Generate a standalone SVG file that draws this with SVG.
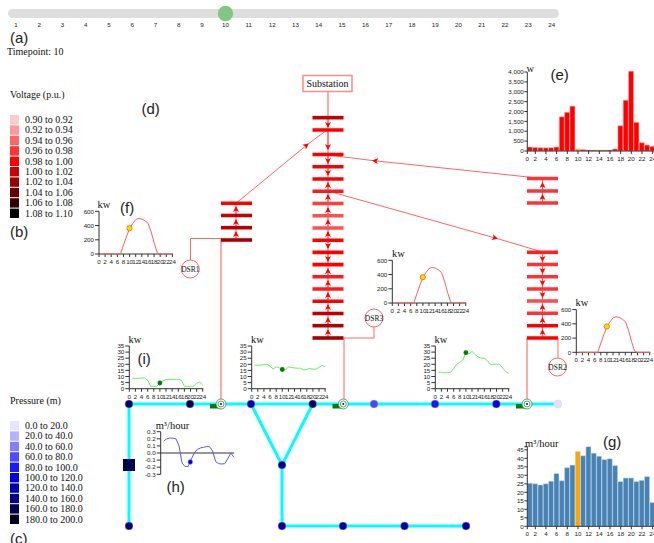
<svg xmlns="http://www.w3.org/2000/svg" width="654" height="543" viewBox="0 0 654 543">
<style>
text{font-family:"Liberation Serif",serif;fill:#111}
.s{font-family:"Liberation Sans",Arial,sans-serif}
.p{font-family:"Liberation Sans",Arial,sans-serif;font-size:15px;fill:#222}
.t{font-family:"Liberation Sans",Arial,sans-serif;font-size:6.2px;fill:#222}
.m{text-anchor:middle}
.e{text-anchor:end}
.l{font-size:10px}
.u{font-size:10.5px;text-anchor:middle}
.ax{fill:none;stroke:#333;stroke-width:1}
.bus{stroke-width:3.6;fill:none}
.c{fill:none;stroke:#ff6666;stroke-width:1}
.cp{fill:none;stroke:#ffaaaa;stroke-width:2}
.dn,.up{fill:none;stroke:#ff5a5a;stroke-width:1}
.dn{marker-end:url(#arr)}
.up{marker-end:url(#arr)}
.pipe{fill:none;stroke:#00ffff;stroke-width:3}
.dsr{fill:#fff;stroke:#ff6666;stroke-width:1}
.dsrt{font-size:7.5px;text-anchor:middle}
.v{fill:none;vector-effect:non-scaling-stroke;stroke-linejoin:round}
.pv{stroke:#ff6060;stroke-width:1}
.gr{stroke:#66ee66;stroke-width:1}
.bl{stroke:#5a5aff;stroke-width:1}
.pvd{fill:#ffe000;stroke:#ff7a00;stroke-width:1}
.grd{fill:#008000}
.re rect{fill:#f00;stroke:#ffb0b0;stroke-width:.5;vector-effect:non-scaling-stroke}
.sb rect{fill:#4682b4;stroke:#c8d8e8;stroke-width:.5;vector-effect:non-scaling-stroke}
.re rect.o,.sb rect.o{fill:#ffa500}
.nd{stroke:#ccd;stroke-width:.4}
.pr1{fill:#2e8b57}
.ring{fill:#fff;stroke:#2e8b57;stroke-width:.8}
</style>
<defs>
<marker id="arr" markerUnits="userSpaceOnUse" markerWidth="7" markerHeight="7" refX="5" refY="3" orient="auto"><path d="M0 0L6 3L0 6L1.5 3z" fill="#f00"/></marker>
</defs>

<g id="slider">
<rect x="8" y="9" width="551" height="9" rx="4.5" fill="#dedede"/>
<circle cx="225.5" cy="13.5" r="7.7" fill="#81c784"/>
<text class="t m" y="27"><tspan x="16">1</tspan><tspan x="39.3">2</tspan><tspan x="62.5">3</tspan><tspan x="85.8">4</tspan><tspan x="109">5</tspan><tspan x="132.3">6</tspan><tspan x="155.5">7</tspan><tspan x="178.8">8</tspan><tspan x="202">9</tspan><tspan x="225.5">10</tspan><tspan x="248.7">11</tspan><tspan x="272.3">12</tspan><tspan x="295.5">13</tspan><tspan x="318.8">14</tspan><tspan x="342">15</tspan><tspan x="365.5">16</tspan><tspan x="388.7">17</tspan><tspan x="412">18</tspan><tspan x="435.3">19</tspan><tspan x="458.5">20</tspan><tspan x="481.8">21</tspan><tspan x="505">22</tspan><tspan x="528.3">23</tspan><tspan x="551.7">24</tspan></text>
</g>
<text class="p" x="10" y="43">(a)</text>
<text class="l" x="7" y="55">Timepoint: 10</text>
<text class="p" x="141.5" y="114">(d)</text>
<text class="p" x="550.5" y="80">(e)</text>
<text class="p" x="120" y="213">(f)</text>
<text class="p" x="603" y="447">(g)</text>
<text class="p" x="166.5" y="492">(h)</text>
<text class="p" x="137.5" y="364">(i)</text>
<text class="p" x="10" y="237">(b)</text>
<text class="p" x="10" y="544">(c)</text>

<g id="voltage-legend">
<text class="l" x="10" y="98">Voltage (p.u.)</text>
<rect x="10" y="115" width="9" height="9.4" fill="#ffcccc"/><text class="l" x="25" y="123">0.90 to 0.92</text>
<rect x="10" y="125.4" width="9" height="9.4" fill="#ff9999"/><text class="l" x="25" y="133.4">0.92 to 0.94</text>
<rect x="10" y="135.8" width="9" height="9.4" fill="#ff6666"/><text class="l" x="25" y="143.8">0.94 to 0.96</text>
<rect x="10" y="146.2" width="9" height="9.4" fill="#ff3333"/><text class="l" x="25" y="154.2">0.96 to 0.98</text>
<rect x="10" y="156.6" width="9" height="9.4" fill="#ff0000"/><text class="l" x="25" y="164.6">0.98 to 1.00</text>
<rect x="10" y="167" width="9" height="9.4" fill="#cc0000"/><text class="l" x="25" y="175">1.00 to 1.02</text>
<rect x="10" y="177.4" width="9" height="9.4" fill="#990000"/><text class="l" x="25" y="185.4">1.02 to 1.04</text>
<rect x="10" y="187.8" width="9" height="9.4" fill="#660000"/><text class="l" x="25" y="195.8">1.04 to 1.06</text>
<rect x="10" y="198.2" width="9" height="9.4" fill="#330000"/><text class="l" x="25" y="206.2">1.06 to 1.08</text>
<rect x="10" y="208.6" width="9" height="9.4" fill="#000000"/><text class="l" x="25" y="216.6">1.08 to 1.10</text>
</g>

<g id="pressure-legend">
<text class="l" x="10" y="404">Pressure (m)</text>
<rect x="10" y="421" width="9" height="9.4" fill="#e5e5ff"/><text class="l" x="25" y="429">0.0 to 20.0</text>
<rect x="10" y="431.4" width="9" height="9.4" fill="#b3b3ff"/><text class="l" x="25" y="439.4">20.0 to 40.0</text>
<rect x="10" y="441.8" width="9" height="9.4" fill="#8080ff"/><text class="l" x="25" y="449.8">40.0 to 60.0</text>
<rect x="10" y="452.2" width="9" height="9.4" fill="#4d4dff"/><text class="l" x="25" y="460.2">60.0 to 80.0</text>
<rect x="10" y="462.6" width="9" height="9.4" fill="#1a1aff"/><text class="l" x="25" y="470.6">80.0 to 100.0</text>
<rect x="10" y="473" width="9" height="9.4" fill="#0000e6"/><text class="l" x="25" y="481">100.0 to 120.0</text>
<rect x="10" y="483.4" width="9" height="9.4" fill="#0000b3"/><text class="l" x="25" y="491.4">120.0 to 140.0</text>
<rect x="10" y="493.8" width="9" height="9.4" fill="#000080"/><text class="l" x="25" y="501.8">140.0 to 160.0</text>
<rect x="10" y="504.2" width="9" height="9.4" fill="#00004d"/><text class="l" x="25" y="512.2">160.0 to 180.0</text>
<rect x="10" y="514.6" width="9" height="9.4" fill="#00001a"/><text class="l" x="25" y="522.6">180.0 to 200.0</text>
</g>

<g id="connectors">
<path class="cp" d="M328 91V338"/>
<path class="cp" d="M221 239V404"/>
<path class="cp" d="M527 338V404"/>
<path class="c" d="M236 203V240M542.5 178.5V203M542.5 252.3V338"/>
<path class="c" d="M344 338V404M344 338H374V327"/>
<path class="c" d="M221 238.5H190.5V260"/>
<path class="c" d="M558 338V358"/>
<path class="c" d="M236 203.3L308 144L327 130" marker-mid="url(#arr)"/>
<path class="c" d="M542.5 178.5L373 160.6L328 155" marker-mid="url(#arr)"/>
<path class="c" d="M328 191L497 238.5L542.5 252" marker-mid="url(#arr)"/>
<path class="dn" d="M328 118V127"/><path class="dn" d="M328 130V149"/><path class="dn" d="M328 155V163"/><path class="dn" d="M328 167V175"/>
<path class="up" d="M328 191V183"/><path class="up" d="M328 203V195"/><path class="up" d="M328 216V208"/><path class="up" d="M328 228V220"/><path class="up" d="M328 240V232"/>
<path class="dn" d="M328 240V248"/><path class="dn" d="M328 252V261"/>
<path class="up" d="M328 277V269"/><path class="up" d="M328 289V281"/><path class="up" d="M328 301V293"/><path class="up" d="M328 313V305"/><path class="up" d="M328 326V318"/><path class="up" d="M328 338V330"/>
<path class="up" d="M236 216V207"/><path class="up" d="M236 228V220"/><path class="up" d="M236 240V232"/>
<path class="up" d="M542.5 191V183"/><path class="up" d="M542.5 203V195"/>
<path class="dn" d="M542.5 252.3V261"/><path class="dn" d="M542.5 264.5V273"/><path class="dn" d="M542.5 276.7V285"/><path class="dn" d="M542.5 289V297"/>
<path class="up" d="M542.5 313V305"/><path class="up" d="M542.5 325.7V318"/><path class="up" d="M542.5 338V330"/>
<path class="pipe" d="M129 404H558M129 404V526M251 404L282 465L312.7 404M282 465V526H466"/>
</g>

<g id="substation"><rect x="303" y="75.5" width="49" height="16" fill="#fff" stroke="#ff8a8a" stroke-width="1.5"/><text x="327.5" y="87" class="m" font-size="10">Substation</text></g>

<g id="bus-column-main">
<path class="bus" stroke="#c80000" d="M312.5 117.7H343.5"/>
<path class="bus" stroke="#ff0000" d="M312.5 130H343.5M312.5 154.5H343.5M312.5 166.7H343.5M312.5 179H343.5M312.5 240.2H343.5M312.5 252.4H343.5M312.5 264.6H343.5M312.5 301.3H343.5"/>
<path class="bus" stroke="#ff1a1a" d="M312.5 191.3H343.5M312.5 276.8H343.5M312.5 289H343.5"/>
<path class="bus" stroke="#ff3d3d" d="M312.5 203.5H343.5"/>
<path class="bus" stroke="#ff5050" d="M312.5 215.7H343.5M312.5 228H343.5"/>
<path class="bus" stroke="#c00000" d="M312.5 313.5H343.5"/>
<path class="bus" stroke="#b00000" d="M312.5 325.7H343.5"/>
<path class="bus" stroke="#a80000" d="M312.5 338H343.5"/>
</g>
<g id="bus-column-left">
<path class="bus" stroke="#ff0000" d="M221 203.3H252"/>
<path class="bus" stroke="#c80000" d="M221 215.5H252"/>
<path class="bus" stroke="#b80000" d="M221 227.7H252"/>
<path class="bus" stroke="#a80000" d="M221 240H252"/>
</g>
<g id="bus-column-right-top">
<path class="bus" stroke="#ff3333" d="M527 178.5H558M527 191H558M527 203H558"/>
</g>
<g id="bus-column-right">
<path class="bus" stroke="#ff2020" d="M527 252.3H558"/>
<path class="bus" stroke="#ff3333" d="M527 264.5H558M527 276.7H558M527 289H558M527 313.3H558"/>
<path class="bus" stroke="#ff4d4d" d="M527 301H558"/>
<path class="bus" stroke="#ff0000" d="M527 325.7H558M527 338H558"/>
</g>

<g id="DSR1"><circle class="dsr" cx="190.3" cy="269" r="9"/><text class="dsrt" x="190.3" y="271.5">DSR1</text></g>
<g id="DSR3"><circle class="dsr" cx="374" cy="318" r="9"/><text class="dsrt" x="374" y="320.5">DSR3</text></g>
<g id="DSR2"><circle class="dsr" cx="557.5" cy="367" r="9"/><text class="dsrt" x="557.5" y="369.5">DSR2</text></g>

<g id="water-nodes">
<circle class="nd" cx="129" cy="404" r="4" fill="#000066"/>
<circle class="nd" cx="190" cy="404" r="4" fill="#000050"/>
<circle class="nd" cx="251" cy="404" r="4" fill="#0000b0"/>
<circle class="nd" cx="312.7" cy="404" r="4" fill="#000060"/>
<circle class="nd" cx="374" cy="404" r="4" fill="#4848ff"/>
<circle class="nd" cx="435" cy="404" r="4" fill="#1a1aff"/>
<circle class="nd" cx="496.3" cy="404" r="4" fill="#0000e0"/>
<circle class="nd" cx="557.7" cy="404" r="4" fill="#e2e2fa"/>
<circle class="nd" cx="129" cy="526" r="4" fill="#000080"/>
<circle class="nd" cx="282" cy="465" r="4" fill="#0000a0"/>
<circle class="nd" cx="282" cy="526" r="4" fill="#0000a0"/>
<circle class="nd" cx="343" cy="526" r="4" fill="#0000a0"/>
<circle class="nd" cx="404.5" cy="526" r="4" fill="#0000a0"/>
<circle class="nd" cx="466" cy="526" r="4" fill="#0000a0"/>
<rect x="123" y="459" width="12" height="12" fill="#000050"/>
</g>
<g id="pump-1"><rect x="210" y="404" width="10" height="4.5" fill="#008000"/><circle class="ring" cx="221" cy="404" r="5"/><circle class="ring" cx="221" cy="404" r="3"/><circle cx="221" cy="404" r="1" fill="#024"/></g>
<g id="pump-2"><rect x="332.5" y="404" width="10" height="4.5" fill="#008000"/><circle class="ring" cx="343.3" cy="404" r="5"/><circle class="ring" cx="343.3" cy="404" r="3"/><circle cx="343.3" cy="404" r="1" fill="#024"/></g>
<g id="pump-3"><rect x="516" y="404" width="10" height="4.5" fill="#008000"/><circle class="ring" cx="527" cy="404" r="5"/><circle class="ring" cx="527" cy="404" r="3"/><circle cx="527" cy="404" r="1" fill="#024"/></g>

<g id="chart-f" transform="translate(99 254)">
<path class="ax" d="M-4 -42.7H0V0H74M-4 -28.5H0M-4 -14.2H0M-4 0H0M0 0V3M6.1 0V3M12.2 0V3M18.4 0V3M24.5 0V3M30.6 0V3M36.7 0V3M42.8 0V3M49 0V3M55.1 0V3M61.2 0V3M67.3 0V3M73.4 0V3"/>
<text class="t e"><tspan x="-5" y="-40.5">600</tspan><tspan x="-5" y="-26.3">400</tspan><tspan x="-5" y="-12">200</tspan><tspan x="-5" y="2.2">0</tspan></text>
<text class="t m" y="10"><tspan x="0">0</tspan><tspan x="6.1">2</tspan><tspan x="12.2">4</tspan><tspan x="18.4">6</tspan><tspan x="24.5">8</tspan><tspan x="30.6">10</tspan><tspan x="36.7">12</tspan><tspan x="42.8">14</tspan><tspan x="49">16</tspan><tspan x="55.1">18</tspan><tspan x="61.2">20</tspan><tspan x="67.3">22</tspan><tspan x="73.4">24</tspan></text>
<text class="u" x="5" y="-46">kw</text>
<polyline class="v pv" transform="scale(3.07 -.0712)" points="1,0 7,0 8,130 9,250 10,362 11,430 12,485 13,500 14,490 15,465 16,430 17,310 18,150 19,15 20,0 24,0"/>
<circle class="pvd" cx="30.5" cy="-25.8" r="2.6"/>
</g>
<g id="chart-dsr3" transform="translate(392.3 303)">
<path class="ax" d="M-4 -42.7H0V0H74M-4 -28.5H0M-4 -14.2H0M-4 0H0M0 0V3M6.1 0V3M12.2 0V3M18.4 0V3M24.5 0V3M30.6 0V3M36.7 0V3M42.8 0V3M49 0V3M55.1 0V3M61.2 0V3M67.3 0V3M73.4 0V3"/>
<text class="t e"><tspan x="-5" y="-40.5">600</tspan><tspan x="-5" y="-26.3">400</tspan><tspan x="-5" y="-12">200</tspan><tspan x="-5" y="2.2">0</tspan></text>
<text class="t m" y="10"><tspan x="0">0</tspan><tspan x="6.1">2</tspan><tspan x="12.2">4</tspan><tspan x="18.4">6</tspan><tspan x="24.5">8</tspan><tspan x="30.6">10</tspan><tspan x="36.7">12</tspan><tspan x="42.8">14</tspan><tspan x="49">16</tspan><tspan x="55.1">18</tspan><tspan x="61.2">20</tspan><tspan x="67.3">22</tspan><tspan x="73.4">24</tspan></text>
<text class="u" x="6" y="-46">kw</text>
<polyline class="v pv" transform="scale(3.07 -.0712)" points="1,0 7,0 8,130 9,250 10,362 11,430 12,485 13,500 14,490 15,465 16,430 17,310 18,150 19,15 20,0 24,0"/>
<circle class="pvd" cx="30.5" cy="-25.8" r="2.6"/>
</g>
<g id="chart-dsr2" transform="translate(576.3 352.3)">
<path class="ax" d="M-4 -42.7H0V0H74M-4 -28.5H0M-4 -14.2H0M-4 0H0M0 0V3M6.1 0V3M12.2 0V3M18.4 0V3M24.5 0V3M30.6 0V3M36.7 0V3M42.8 0V3M49 0V3M55.1 0V3M61.2 0V3M67.3 0V3M73.4 0V3"/>
<text class="t e"><tspan x="-5" y="-40.5">600</tspan><tspan x="-5" y="-26.3">400</tspan><tspan x="-5" y="-12">200</tspan><tspan x="-5" y="2.2">0</tspan></text>
<text class="t m" y="10"><tspan x="0">0</tspan><tspan x="6.1">2</tspan><tspan x="12.2">4</tspan><tspan x="18.4">6</tspan><tspan x="24.5">8</tspan><tspan x="30.6">10</tspan><tspan x="36.7">12</tspan><tspan x="42.8">14</tspan><tspan x="49">16</tspan><tspan x="55.1">18</tspan><tspan x="61.2">20</tspan><tspan x="67.3">22</tspan><tspan x="73.4">24</tspan></text>
<text class="u" x="5.5" y="-46">kw</text>
<polyline class="v pv" transform="scale(3.07 -.0712)" points="1,0 7,0 8,130 9,250 10,362 11,430 12,485 13,500 14,490 15,465 16,430 17,310 18,150 19,15 20,0 24,0"/>
<circle class="pvd" cx="30.5" cy="-25.8" r="2.6"/>
</g>

<g id="chart-i" transform="translate(129.3 388.7)">
<path class="ax" d="M-4 -42.7H0V0H74M-4 -36.6H0M-4 -30.5H0M-4 -24.4H0M-4 -18.3H0M-4 -12.2H0M-4 -6.1H0M-4 0H0M0 0V3M6.1 0V3M12.2 0V3M18.4 0V3M24.5 0V3M30.6 0V3M36.7 0V3M42.8 0V3M49 0V3M55.1 0V3M61.2 0V3M67.3 0V3M73.4 0V3"/>
<text class="t e"><tspan x="-5" y="-40.5">35</tspan><tspan x="-5" y="-34.4">30</tspan><tspan x="-5" y="-28.3">25</tspan><tspan x="-5" y="-22.2">20</tspan><tspan x="-5" y="-16.1">15</tspan><tspan x="-5" y="-10">10</tspan><tspan x="-5" y="-3.9">5</tspan><tspan x="-5" y="2.2">0</tspan></text>
<text class="t m" y="10"><tspan x="0">0</tspan><tspan x="6.1">2</tspan><tspan x="12.2">4</tspan><tspan x="18.4">6</tspan><tspan x="24.5">8</tspan><tspan x="30.6">10</tspan><tspan x="36.7">12</tspan><tspan x="42.8">14</tspan><tspan x="49">16</tspan><tspan x="55.1">18</tspan><tspan x="61.2">20</tspan><tspan x="67.3">22</tspan><tspan x="73.4">24</tspan></text>
<text class="u" x="5.7" y="-45.7">kw</text>
<polyline class="v gr" transform="scale(3.06 -1.22)" points="1,8 2,8.3 3,8.5 4,8.7 5,8.8 6,7 7,2 8,2 9,2 10,4.7 11,6.5 12,7.5 13,7.5 14,7.7 15,7.7 16,7.7 17,7 18,2 19,2 20,2 21,2 22,4.5 23,5.5 24,3"/>
<circle class="grd" cx="30.6" cy="-5.7" r="2.4"/>
</g>
<g id="chart-mid" transform="translate(251.7 388.7)">
<path class="ax" d="M-4 -42.7H0V0H74M-4 -36.6H0M-4 -30.5H0M-4 -24.4H0M-4 -18.3H0M-4 -12.2H0M-4 -6.1H0M-4 0H0M0 0V3M6.1 0V3M12.2 0V3M18.4 0V3M24.5 0V3M30.6 0V3M36.7 0V3M42.8 0V3M49 0V3M55.1 0V3M61.2 0V3M67.3 0V3M73.4 0V3"/>
<text class="t e"><tspan x="-5" y="-40.5">35</tspan><tspan x="-5" y="-34.4">30</tspan><tspan x="-5" y="-28.3">25</tspan><tspan x="-5" y="-22.2">20</tspan><tspan x="-5" y="-16.1">15</tspan><tspan x="-5" y="-10">10</tspan><tspan x="-5" y="-3.9">5</tspan><tspan x="-5" y="2.2">0</tspan></text>
<text class="t m" y="10"><tspan x="0">0</tspan><tspan x="6.1">2</tspan><tspan x="12.2">4</tspan><tspan x="18.4">6</tspan><tspan x="24.5">8</tspan><tspan x="30.6">10</tspan><tspan x="36.7">12</tspan><tspan x="42.8">14</tspan><tspan x="49">16</tspan><tspan x="55.1">18</tspan><tspan x="61.2">20</tspan><tspan x="67.3">22</tspan><tspan x="73.4">24</tspan></text>
<text class="u" x="5.7" y="-45.7">kw</text>
<polyline class="v gr" transform="scale(3.06 -1.22)" points="1,19.3 2,19.3 3,19.3 4,19.6 5,20 6,18.5 7,16 8,18 9,17 10,15.7 11,15.5 12,17.8 13,17.3 14,17 15,16.8 16,16.8 17,15.3 18,15.8 19,16.5 20,16 21,16 22,17.5 23,19.2 24,17.8"/>
<circle class="grd" cx="30.6" cy="-19.2" r="2.4"/>
</g>
<g id="chart-right" transform="translate(435.3 388.7)">
<path class="ax" d="M-4 -42.7H0V0H74M-4 -36.6H0M-4 -30.5H0M-4 -24.4H0M-4 -18.3H0M-4 -12.2H0M-4 -6.1H0M-4 0H0M0 0V3M6.1 0V3M12.2 0V3M18.4 0V3M24.5 0V3M30.6 0V3M36.7 0V3M42.8 0V3M49 0V3M55.1 0V3M61.2 0V3M67.3 0V3M73.4 0V3"/>
<text class="t e"><tspan x="-5" y="-40.5">35</tspan><tspan x="-5" y="-34.4">30</tspan><tspan x="-5" y="-28.3">25</tspan><tspan x="-5" y="-22.2">20</tspan><tspan x="-5" y="-16.1">15</tspan><tspan x="-5" y="-10">10</tspan><tspan x="-5" y="-3.9">5</tspan><tspan x="-5" y="2.2">0</tspan></text>
<text class="t m" y="10"><tspan x="0">0</tspan><tspan x="6.1">2</tspan><tspan x="12.2">4</tspan><tspan x="18.4">6</tspan><tspan x="24.5">8</tspan><tspan x="30.6">10</tspan><tspan x="36.7">12</tspan><tspan x="42.8">14</tspan><tspan x="49">16</tspan><tspan x="55.1">18</tspan><tspan x="61.2">20</tspan><tspan x="67.3">22</tspan><tspan x="73.4">24</tspan></text>
<text class="u" x="5.7" y="-45.7">kw</text>
<polyline class="v gr" transform="scale(3.06 -1.22)" points="1,13.5 2,13.5 3,13 4,13.3 5,13.5 6,16.5 7,20 8,21.5 9,23.5 10,29.5 11,28.5 12,30.5 13,28 14,26 15,25 16,25 17,23 18,20 19,20 20,20.2 21,20 22,17 23,14 24,12.5"/>
<circle class="grd" cx="30.6" cy="-36" r="2.4"/>
</g>

<g id="chart-h" transform="translate(160.7 453)">
<path class="ax" d="M-4 -21.3H0V21.3H-4M-4 -14.2H0M-4 -7.1H0M-4 0H73.5M-4 7.1H0M-4 14.2H0"/>
<text class="t e"><tspan x="-5" y="-19.1">0.3</tspan><tspan x="-5" y="-12">0.2</tspan><tspan x="-5" y="-4.9">0.1</tspan><tspan x="-5" y="2.2">0.0</tspan><tspan x="-5" y="9.3">-0.1</tspan><tspan x="-5" y="16.4">-0.2</tspan><tspan x="-5" y="23.5">-0.3</tspan></text>
<text class="u" x="11.7" y="-24">m³/hour</text>
<polyline class="v bl" transform="scale(3.05 -71)" points="1,.17 2,.2 3,.21 4,.21 5,.2 6,.1 7,-.14 8,-.19 9,-.19 10,-.09 11,0 12,.05 13,.07 14,.08 15,.09 16,.09 17,.03 18,-.12 19,-.15 20,-.155 21,-.15 22,-.08 23,0 24,-.06"/>
<circle cx="29.6" cy="9" r="2.4" fill="#00f" stroke="#99f" stroke-width=".5"/>
</g>

<g id="chart-e" transform="translate(527.3 151)">
<g class="re" transform="scale(5.33 -.01975)">
<rect x="0" width=".94" height="200"/><rect x="1" width=".94" height="180"/><rect x="2" width=".94" height="165"/><rect x="3" width=".94" height="160"/><rect x="4" width=".94" height="165"/><rect x="5" width=".94" height="200"/><rect x="6" width=".94" height="1730"/><rect x="7" width=".94" height="1960"/><rect x="8" width=".94" height="2270"/><rect class="o" x="9" width=".94" height="100"/><rect x="10" width=".94" height="70"/><rect x="11" width=".94" height="50"/><rect x="12" width=".94" height="45"/><rect x="13" width=".94" height="40"/><rect x="14" width=".94" height="40"/><rect x="15" width=".94" height="50"/><rect x="16" width=".94" height="100"/><rect x="17" width=".94" height="1280"/><rect x="18" width=".94" height="2570"/><rect x="19" width=".94" height="4040"/><rect x="20" width=".94" height="1450"/><rect x="21" width=".94" height="420"/><rect x="22" width=".94" height="300"/><rect x="23" width=".94" height="230"/>
</g>
<path class="ax" d="M-3 -79H0V0H127M-3 -69.1H0M-3 -59.3H0M-3 -49.4H0M-3 -39.5H0M-3 -29.6H0M-3 -19.8H0M-3 -9.9H0M-3 0H0M0 0V3M8 0V3M18.6 0V3M29.3 0V3M40 0V3M50.7 0V3M61.3 0V3M72 0V3M82.7 0V3M93.4 0V3M104 0V3M114.7 0V3M125.4 0V3"/>
<text class="t e"><tspan x="-3.5" y="-76.8">4,000</tspan><tspan x="-3.5" y="-66.9">3,500</tspan><tspan x="-3.5" y="-57.1">3,000</tspan><tspan x="-3.5" y="-47.2">2,500</tspan><tspan x="-3.5" y="-37.3">2,000</tspan><tspan x="-3.5" y="-27.4">1,500</tspan><tspan x="-3.5" y="-17.6">1,000</tspan><tspan x="-3.5" y="-7.7">500</tspan><tspan x="-3.5" y="2.2">0</tspan></text>
<text class="t m" y="10"><tspan x="0">0</tspan><tspan x="8">2</tspan><tspan x="18.6">4</tspan><tspan x="29.3">6</tspan><tspan x="40">8</tspan><tspan x="50.7">10</tspan><tspan x="61.3">12</tspan><tspan x="72">14</tspan><tspan x="82.7">16</tspan><tspan x="93.4">18</tspan><tspan x="104">20</tspan><tspan x="114.7">22</tspan><tspan x="125.4">24</tspan></text>
<text class="u" x="3" y="-79">w</text>
</g>

<g id="chart-g" transform="translate(527.3 526.3)">
<g class="sb" transform="scale(5.33 -1.7)">
<rect x="0" width=".94" height="25.3"/><rect x="1" width=".94" height="25"/><rect x="2" width=".94" height="24.3"/><rect x="3" width=".94" height="25"/><rect x="4" width=".94" height="26.5"/><rect x="5" width=".94" height="31"/><rect x="6" width=".94" height="26.8"/><rect x="7" width=".94" height="34.5"/><rect x="8" width=".94" height="36"/><rect class="o" x="9" width=".94" height="44"/><rect x="10" width=".94" height="41.5"/><rect x="11" width=".94" height="46.8"/><rect x="12" width=".94" height="43"/><rect x="13" width=".94" height="41.2"/><rect x="14" width=".94" height="39.2"/><rect x="15" width=".94" height="39.7"/><rect x="16" width=".94" height="35.7"/><rect x="17" width=".94" height="26.3"/><rect x="18" width=".94" height="28.4"/><rect x="19" width=".94" height="28.4"/><rect x="20" width=".94" height="26.3"/><rect x="21" width=".94" height="27"/><rect x="22" width=".94" height="29.2"/><rect x="23" width=".94" height="14"/>
</g>
<path class="ax" d="M-3 -79.6H0V0H127M-3 -76.5H0M-3 -68H0M-3 -59.5H0M-3 -51H0M-3 -42.5H0M-3 -34H0M-3 -25.5H0M-3 -17H0M-3 -8.5H0M-3 0H0M0 0V3M8 0V3M18.6 0V3M29.3 0V3M40 0V3M50.7 0V3M61.3 0V3M72 0V3M82.7 0V3M93.4 0V3M104 0V3M114.7 0V3M125.4 0V3"/>
<text class="t e"><tspan x="-3.5" y="-74.3">45</tspan><tspan x="-3.5" y="-65.8">40</tspan><tspan x="-3.5" y="-57.3">35</tspan><tspan x="-3.5" y="-48.8">30</tspan><tspan x="-3.5" y="-40.3">25</tspan><tspan x="-3.5" y="-31.8">20</tspan><tspan x="-3.5" y="-23.3">15</tspan><tspan x="-3.5" y="-14.8">10</tspan><tspan x="-3.5" y="-6.3">5</tspan><tspan x="-3.5" y="2.2">0</tspan></text>
<text class="t m" y="10"><tspan x="0">0</tspan><tspan x="8">2</tspan><tspan x="18.6">4</tspan><tspan x="29.3">6</tspan><tspan x="40">8</tspan><tspan x="50.7">10</tspan><tspan x="61.3">12</tspan><tspan x="72">14</tspan><tspan x="82.7">16</tspan><tspan x="93.4">18</tspan><tspan x="104">20</tspan><tspan x="114.7">22</tspan><tspan x="125.4">24</tspan></text>
<text class="u" x="14.5" y="-79">m³/hour</text>
</g>
</svg>
